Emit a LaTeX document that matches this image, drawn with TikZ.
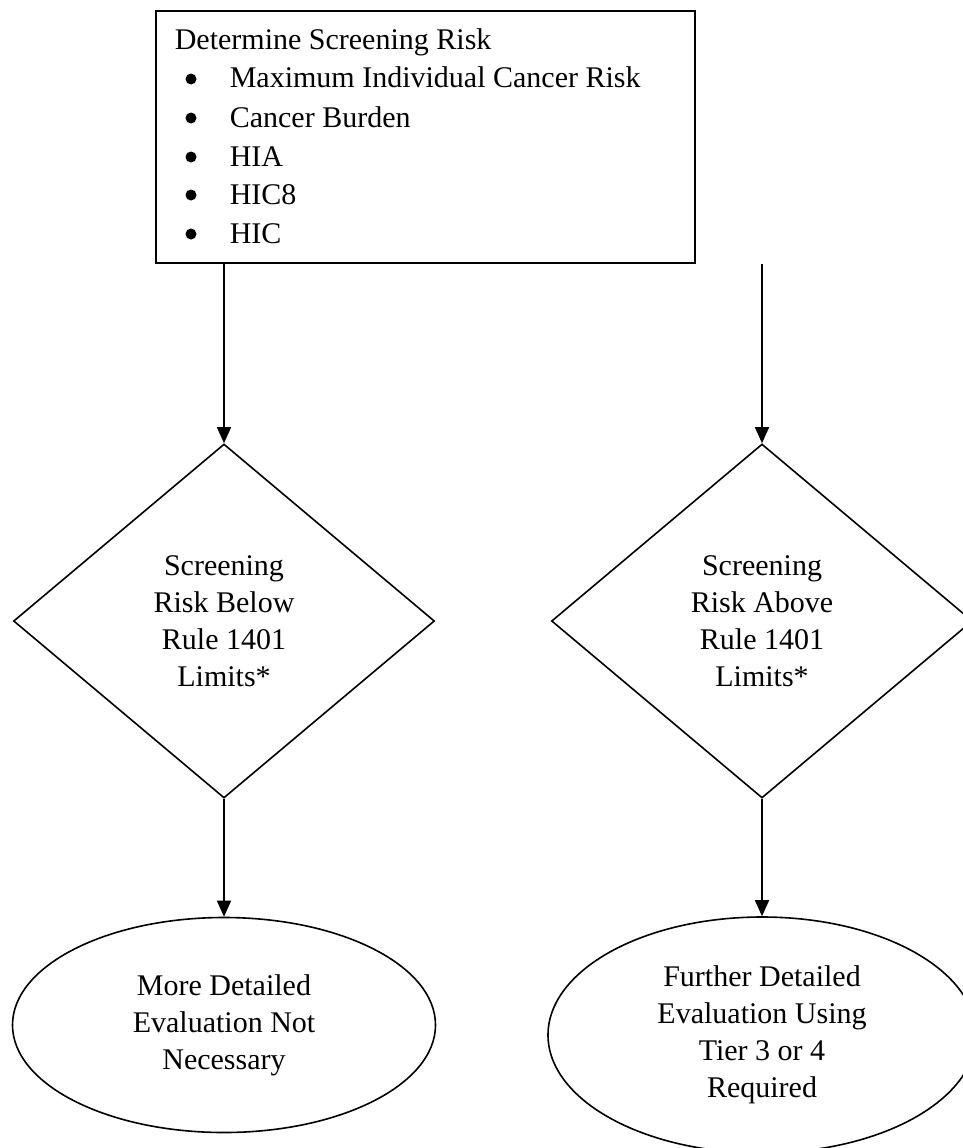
\documentclass[tikz,border=0pt]{standalone}
\usepackage{fontspec}
\setmainfont{Liberation Serif}
\usetikzlibrary{shapes.geometric,arrows.meta}
\begin{document}
\begin{tikzpicture}[x=1pt,y=-1pt,
  line width=1.6pt,
  every node/.style={font=\fontsize{30}{37}\selectfont},
  conn/.style={-{Triangle[length=16pt,width=14pt]}},
  txt/.style={anchor=base west, inner sep=0pt},
  bul/.style={circle, fill=black, inner sep=0pt, minimum size=11pt},
  decision/.style={diamond, draw, minimum width=421pt, minimum height=354pt, inner sep=0pt, align=center},
  terminal/.style={ellipse, draw, inner sep=0pt, align=center}]
\useasboundingbox (0,0) rectangle (962,1148);
\fill[white] (0,0) rectangle (962,1148);
\node[draw, anchor=north west, minimum width=539pt, minimum height=252pt, inner sep=0pt] (top) at (155,10) {};
\node[txt] (title) at (174,49) {Determine Screening Risk};
\node[bul] (b1) at (191,79) {};
\node[txt] (i1) at (229,88) {Maximum Individual Cancer Risk};
\node[bul] (b2) at (191,118) {};
\node[txt] (i2) at (229,127) {Cancer Burden};
\node[bul] (b3) at (191,157) {};
\node[txt] (i3) at (229,166) {HIA};
\node[bul] (b4) at (191,195) {};
\node[txt] (i4) at (229,204) {HIC8};
\node[bul] (b5) at (191,234) {};
\node[txt] (i5) at (229,243) {HIC};

\node[decision] (dl) at (224,621) {Screening\\Risk Below\\Rule 1401\\Limits*};
\node[decision] (dr) at (762,621) {Screening\\Risk Above\\Rule 1401\\Limits*};

\node[terminal, minimum width=423pt, minimum height=215pt] (el) at (224,1025) {More Detailed\\Evaluation Not\\Necessary};
\node[terminal, minimum width=428pt, minimum height=236pt] (er) at (762,1035) {Further Detailed\\Evaluation Using\\Tier 3 or 4\\Required};

\draw[conn] (top.south -| dl.north) -- (dl.north);
\draw[conn] (top.south -| dr.north) -- (dr.north);
\draw[conn] (dl.south) -- (el.north);
\draw[conn] (dr.south) -- (er.north);
\end{tikzpicture}
\end{document}
